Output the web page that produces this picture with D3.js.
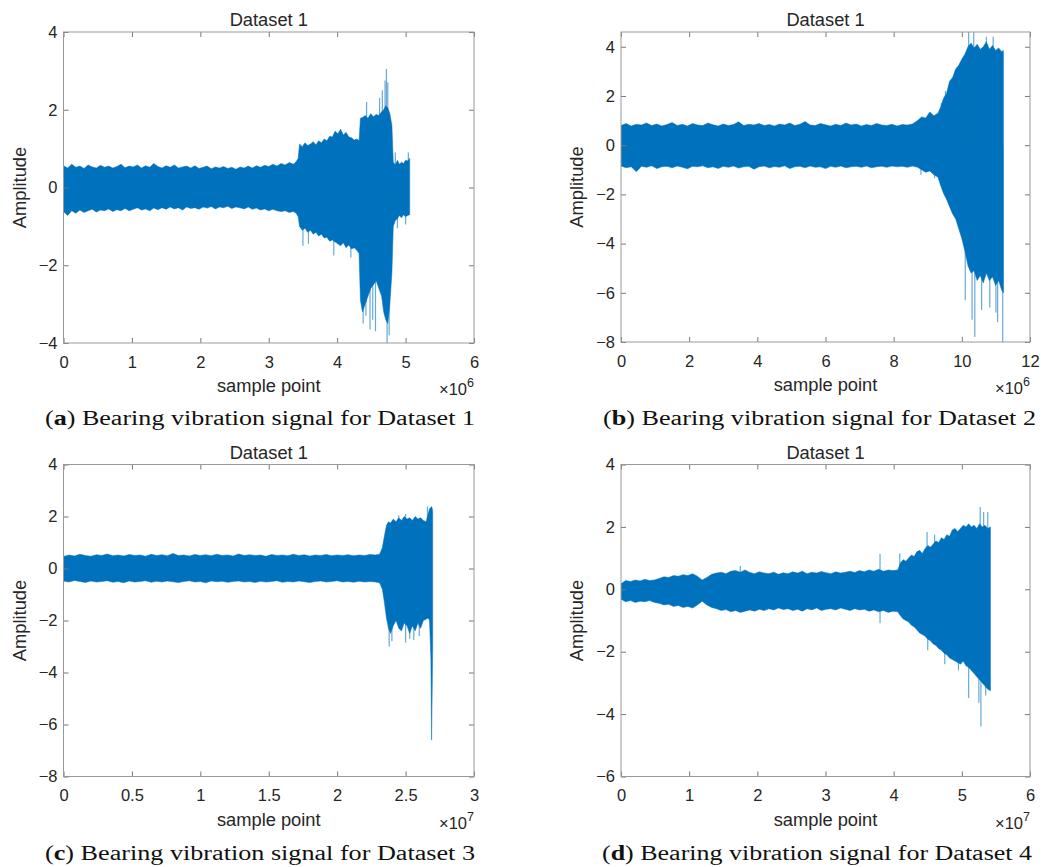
<!DOCTYPE html>
<html>
<head>
<meta charset="utf-8">
<script src="https://cdn.jsdelivr.net/npm/d3@7"></script>
<style>
  body { margin: 0; background: #fff; }
  svg { display: block; }
</style>
</head>
<body>
<div id="chart"></div>
<script>
// ---- data: envelope (max / min) of each signal ----
// x in axis units (x10^6 for a, b; x10^7 for c, d)

// (a) Dataset 1
const xA = [0, 0.06, 0.12, 0.18, 0.24, 0.3, 0.36, 0.42, 0.48, 0.54, 0.6, 0.66, 0.72, 0.78, 0.84, 0.9, 0.96, 1.02, 1.08, 1.14,
  1.2, 1.26, 1.32, 1.38, 1.44, 1.5, 1.56, 1.62, 1.68, 1.74, 1.8, 1.86, 1.92, 1.98, 2.04, 2.1, 2.16, 2.22, 2.28, 2.34,
  2.4, 2.46, 2.52, 2.58, 2.64, 2.7, 2.76, 2.82, 2.88, 2.94, 3.0, 3.06, 3.12, 3.18, 3.24, 3.3, 3.36,
  3.40, 3.43, 3.45, 3.49, 3.53, 3.57, 3.61, 3.65, 3.69, 3.73, 3.77, 3.81, 3.85, 3.89, 3.93, 3.97, 4.01, 4.05, 4.09, 4.13,
  4.17, 4.21, 4.25, 4.29, 4.32, 4.34, 4.37, 4.41, 4.45, 4.49, 4.53, 4.57, 4.61, 4.65, 4.68, 4.71, 4.74, 4.77, 4.8, 4.82,
  4.85, 4.88, 4.91, 4.94, 4.97, 5.0, 5.03, 5.06]
const upA = [0.56, 0.5, 0.6, 0.52, 0.55, 0.49, 0.58, 0.53, 0.5, 0.57, 0.52, 0.55, 0.5, 0.54, 0.6, 0.51, 0.55, 0.53, 0.58, 0.5,
  0.56, 0.52, 0.62, 0.54, 0.5, 0.56, 0.52, 0.58, 0.5, 0.53, 0.55, 0.5, 0.56, 0.49, 0.52, 0.55, 0.48, 0.53, 0.5, 0.54,
  0.49, 0.52, 0.47, 0.53, 0.5, 0.55, 0.5, 0.56, 0.52, 0.57, 0.54, 0.6, 0.55, 0.62, 0.58, 0.64, 0.6,
  0.66, 0.75, 1.12, 1.05, 1.15, 1.08, 1.12, 1.18, 1.1, 1.2, 1.15, 1.25, 1.2, 1.32, 1.3, 1.45, 1.38, 1.5, 1.35, 1.42,
  1.3, 1.28, 1.22, 1.25, 1.2, 1.78, 1.8, 1.85, 1.78, 1.9, 1.82, 1.88, 1.85, 1.95, 2.0, 2.1, 2.05, 1.9, 1.6, 0.65,
  0.58, 0.7, 0.6, 0.65, 0.62, 0.7, 0.68, 0.75]
const loA = [-0.62, -0.72, -0.6, -0.66, -0.58, -0.64, -0.6, -0.56, -0.63, -0.58, -0.6, -0.55, -0.62, -0.57, -0.6, -0.54, -0.6, -0.56, -0.52, -0.58,
  -0.55, -0.6, -0.53, -0.57, -0.52, -0.56, -0.5, -0.55, -0.52, -0.58, -0.5, -0.54, -0.52, -0.56, -0.5, -0.53, -0.49, -0.55, -0.5, -0.52,
  -0.48, -0.54, -0.5, -0.52, -0.55, -0.5, -0.56, -0.53, -0.58, -0.55, -0.6, -0.56, -0.6, -0.62, -0.6, -0.64, -0.62,
  -0.66, -0.75, -1.0, -1.1, -1.05, -1.15, -1.1, -1.2, -1.15, -1.25, -1.2, -1.3, -1.28, -1.38, -1.35, -1.4, -1.45, -1.5, -1.42, -1.55,
  -1.48, -1.58, -1.55, -1.62, -1.7, -2.9, -3.2, -3.0, -2.8, -2.6, -2.5, -2.4, -2.6, -2.8, -3.2, -3.4, -3.5, -3.0, -2.2, -1.0,
  -0.85, -0.8, -0.72, -0.78, -0.7, -0.75, -0.72, -0.7]
const spikeXA = [4.62, 4.66, 4.7, 4.72, 4.74, 4.43, 4.85, 5.04, 3.5, 3.58, 3.95, 4.2, 4.38, 4.42, 4.48, 4.52, 4.56, 4.73, 4.76, 4.88, 5.0]
const spikeYA = [2.3, 2.5, 2.75, 3.05, 2.7, 2.2, 0.9, 0.9, -1.5, -1.45, -1.75, -1.8, -3.5, -3.3, -3.65, -3.4, -3.7, -4.0, -3.8, -1.05, -0.95]

// (b) Dataset 2
const xB = [0, 0.15, 0.3, 0.45, 0.6, 0.75, 0.9, 1.05, 1.2, 1.35, 1.5, 1.65, 1.8, 1.95, 2.1, 2.25, 2.4, 2.55, 2.7, 2.85,
  3.0, 3.15, 3.3, 3.45, 3.6, 3.75, 3.9, 4.05, 4.2, 4.35, 4.5, 4.65, 4.8, 4.95, 5.1, 5.25, 5.4, 5.55, 5.7, 5.85,
  6.0, 6.15, 6.3, 6.45, 6.6, 6.75, 6.9, 7.05, 7.2, 7.35, 7.5, 7.65, 7.8, 7.95, 8.1, 8.25, 8.4, 8.55,
  8.7, 8.82, 8.94, 9.06, 9.18, 9.3, 9.38, 9.46, 9.55, 9.64, 9.73, 9.82, 9.91, 10.0, 10.09, 10.18, 10.27, 10.36, 10.45, 10.54,
  10.63, 10.72, 10.81, 10.9, 10.99, 11.08, 11.17, 11.22]
const upB = [0.8, 0.88, 0.78, 0.85, 0.82, 0.9, 0.8, 0.86, 0.78, 0.84, 0.92, 0.8, 0.85, 0.78, 0.88, 0.82, 0.8, 0.9, 0.83, 0.78,
  0.86, 0.8, 0.84, 0.95, 0.8, 0.85, 0.82, 0.88, 0.8, 0.84, 0.78, 0.86, 0.82, 0.9, 0.8, 0.85, 0.96, 0.82, 0.8, 0.88,
  0.83, 0.78, 0.85, 0.8, 0.9, 0.82, 0.86, 0.78, 0.84, 0.8, 0.88, 0.82, 0.8, 0.85, 0.78, 0.84, 0.82, 0.86,
  1.0, 1.15, 1.1, 1.35, 1.2, 1.3, 1.55, 1.9, 2.1, 2.6, 2.75, 3.1, 3.25, 3.5, 3.7, 4.0, 4.15, 3.95, 4.1, 3.9,
  4.0, 4.2, 3.9, 4.05, 3.85, 3.95, 3.8, 3.85]
const loB = [-0.85, -0.92, -0.88, -1.08, -0.86, -0.9, -0.84, -0.95, -0.88, -0.86, -0.92, -0.85, -0.9, -0.96, -0.86, -0.88, -0.84, -0.92, -0.88, -0.95,
  -0.86, -0.9, -0.85, -0.93, -0.88, -0.86, -0.98, -0.88, -0.85, -0.92, -0.87, -0.9, -0.84, -0.95, -0.88, -0.86, -0.92, -0.85, -0.9, -0.88,
  -0.95, -0.86, -0.9, -0.85, -0.92, -0.88, -0.86, -0.9, -0.85, -0.92, -0.88, -0.86, -0.9, -0.85, -0.88, -0.86, -0.9, -0.85,
  -0.9, -1.0, -1.1, -1.05, -1.2, -1.3, -1.65, -1.95, -2.2, -2.5, -2.8, -3.0, -3.4, -3.8, -4.3, -4.9, -5.2, -5.1, -5.5, -5.3,
  -5.6, -5.2, -5.5, -5.35, -5.7, -5.5, -5.9, -6.0]
const spikeXB = [10.2, 10.35, 10.72, 10.92, 9.4, 9.52, 10.1, 10.3, 10.38, 10.58, 10.82, 11.0, 11.05, 11.2, 8.8, 9.2]
const spikeYB = [4.6, 4.6, 4.41, 4.41, 1.7, 2.2, -6.3, -7.1, -7.8, -6.7, -6.6, -6.8, -7.2, -8.0, -1.2, -1.35]

// (c) Dataset 3
const xC = [0, 0.04, 0.08, 0.12, 0.16, 0.2, 0.24, 0.28, 0.32, 0.36, 0.4, 0.44, 0.48, 0.52, 0.56, 0.6, 0.64, 0.68, 0.72, 0.76,
  0.8, 0.84, 0.88, 0.92, 0.96, 1.0, 1.04, 1.08, 1.12, 1.16, 1.2, 1.24, 1.28, 1.32, 1.36, 1.4, 1.44, 1.48, 1.52, 1.56,
  1.6, 1.64, 1.68, 1.72, 1.76, 1.8, 1.84, 1.88, 1.92, 1.96, 2.0, 2.04, 2.08, 2.12, 2.16, 2.2, 2.24, 2.28,
  2.31, 2.33, 2.345, 2.36, 2.375, 2.39, 2.41, 2.43, 2.45, 2.47, 2.49, 2.51, 2.53, 2.55, 2.57, 2.59, 2.61, 2.63, 2.65, 2.665,
  2.675, 2.685, 2.69, 2.695, 2.698]
const upC = [0.46, 0.52, 0.48, 0.55, 0.5, 0.47, 0.53, 0.5, 0.56, 0.49, 0.52, 0.48, 0.54, 0.5, 0.52, 0.47, 0.55, 0.5, 0.53, 0.49,
  0.58, 0.5, 0.52, 0.48, 0.54, 0.5, 0.53, 0.49, 0.55, 0.5, 0.52, 0.48, 0.56, 0.5, 0.53, 0.5, 0.52, 0.47, 0.54, 0.5,
  0.52, 0.49, 0.55, 0.5, 0.53, 0.48, 0.52, 0.5, 0.54, 0.49, 0.52, 0.5, 0.53, 0.49, 0.52, 0.5, 0.54, 0.52,
  0.55, 0.8, 1.25, 1.65, 1.8, 1.75, 1.9, 1.8, 1.95, 1.85, 2.0, 1.9, 1.95, 1.85, 2.0, 1.9, 1.95, 1.85, 1.8, 2.1,
  2.3, 2.35, 2.38, 2.3, 2.2]
const loC = [-0.48, -0.52, -0.46, -0.5, -0.54, -0.48, -0.52, -0.5, -0.47, -0.53, -0.5, -0.55, -0.48, -0.52, -0.5, -0.47, -0.53, -0.49, -0.52, -0.48,
  -0.51, -0.54, -0.5, -0.47, -0.52, -0.5, -0.55, -0.48, -0.51, -0.49, -0.53, -0.5, -0.48, -0.52, -0.5, -0.54, -0.49, -0.52, -0.5, -0.47,
  -0.53, -0.5, -0.52, -0.48, -0.51, -0.54, -0.5, -0.48, -0.52, -0.5, -0.47, -0.52, -0.5, -0.53, -0.49, -0.52, -0.5, -0.52,
  -0.55, -0.8, -1.3, -1.9, -2.3, -2.5, -2.2, -2.0, -2.3, -2.4, -2.1, -2.2, -2.5, -2.2, -2.4, -2.1, -2.3, -2.0, -1.95, -1.9,
  -2.0, -3.5, -6.6, -4.5, -3.0]
const spikeXC = [2.38, 2.4, 2.5, 2.53, 2.56, 2.6, 2.66, 2.45, 2.5]
const spikeYC = [-3.0, -2.8, -2.85, -2.7, -2.75, -2.6, 2.38, 2.05, 2.1]

// (d) Dataset 4
const xD = [0, 0.07, 0.14, 0.21, 0.28, 0.35, 0.42, 0.49, 0.56, 0.63, 0.7, 0.77, 0.84, 0.91, 0.98, 1.05, 1.12, 1.19, 1.26, 1.33,
  1.4, 1.47, 1.54, 1.61, 1.68, 1.75, 1.82, 1.89, 1.96, 2.03, 2.1, 2.17, 2.24, 2.31, 2.38, 2.45, 2.52, 2.59, 2.66, 2.73,
  2.8, 2.87, 2.94, 3.01, 3.08, 3.15, 3.22, 3.29, 3.36, 3.43, 3.5, 3.57, 3.64, 3.71, 3.78, 3.85, 3.92, 3.99, 4.06,
  4.1, 4.14, 4.18, 4.22, 4.26, 4.3, 4.34, 4.38, 4.42, 4.46, 4.5, 4.54, 4.58, 4.62, 4.66, 4.7, 4.74, 4.78, 4.82, 4.86,
  4.9, 4.94, 4.98, 5.02, 5.06, 5.1, 5.14, 5.18, 5.22, 5.26, 5.3, 5.34, 5.38, 5.42]
const upD = [0.18, 0.28, 0.25, 0.3, 0.27, 0.32, 0.28, 0.3, 0.35, 0.4, 0.38, 0.44, 0.42, 0.47, 0.44, 0.5, 0.42, 0.3, 0.38, 0.48,
  0.52, 0.55, 0.5, 0.58, 0.6, 0.55, 0.62, 0.54, 0.5, 0.56, 0.52, 0.5, 0.55, 0.48, 0.53, 0.5, 0.56, 0.52, 0.58, 0.5,
  0.55, 0.52, 0.57, 0.53, 0.5, 0.56, 0.52, 0.55, 0.58, 0.54, 0.6, 0.56, 0.62, 0.58, 0.64, 0.58, 0.62, 0.6, 0.62,
  0.85, 0.95, 0.9, 1.0, 1.1, 1.05, 1.2, 1.25, 1.15, 1.3, 1.4, 1.35, 1.45, 1.55, 1.5, 1.65, 1.6, 1.75, 1.7, 1.9,
  1.95, 1.85, 1.95, 2.05, 2.0, 2.1, 2.0, 2.05, 1.95, 2.1, 2.0, 2.05, 1.95, 2.0]
const loD = [-0.32, -0.4, -0.36, -0.42, -0.38, -0.4, -0.36, -0.42, -0.45, -0.5, -0.48, -0.55, -0.52, -0.58, -0.55, -0.6, -0.5, -0.38, -0.5, -0.58,
  -0.62, -0.68, -0.65, -0.72, -0.68, -0.74, -0.7, -0.66, -0.7, -0.64, -0.68, -0.62, -0.66, -0.6, -0.65, -0.62, -0.68, -0.64, -0.7, -0.62,
  -0.66, -0.6, -0.68, -0.64, -0.62, -0.66, -0.6, -0.64, -0.68, -0.62, -0.66, -0.64, -0.7, -0.66, -0.72, -0.68, -0.74, -0.7, -0.72,
  -0.85, -0.95, -1.0, -1.05, -1.15, -1.2, -1.3, -1.4, -1.45, -1.5, -1.6, -1.65, -1.75, -1.8, -1.9, -1.95, -2.05, -2.1, -2.2, -2.25,
  -2.3, -2.35, -2.4, -2.3, -2.45, -2.5, -2.6, -2.7, -2.8, -2.9, -3.0, -3.1, -3.2, -3.25]
const spikeXD = [1.75, 3.8, 4.09, 4.49, 4.6, 5.27, 5.32, 5.38, 3.8, 4.5, 4.75, 4.95, 5.1, 5.25, 5.28, 5.35]
const spikeYD = [0.75, 1.13, 1.15, 1.84, 1.75, 2.64, 2.48, 2.48, -1.09, -1.95, -2.4, -2.6, -3.48, -3.64, -4.4, -3.4]

// axis ticks
const xTicksA = [0, 1, 2, 3, 4, 5, 6]
const xTicksB = [0, 2, 4, 6, 8, 10, 12]
const xTicksC = [0, 0.5, 1, 1.5, 2, 2.5, 3]
const xTicksD = [0, 1, 2, 3, 4, 5, 6]
const yTicksA = [-4, -2, 0, 2, 4]
const yTicksB = [-8, -6, -4, -2, 0, 2, 4]
const yTicksC = [-8, -6, -4, -2, 0, 2, 4]
const yTicksD = [-6, -4, -2, 0, 2, 4]

const captions = ['a', 'b', 'c', 'd']
const datasetNames = ['Dataset 1', 'Dataset 2', 'Dataset 3', 'Dataset 4']

// ---- drawing ----
const W = 1046
const H = 867
const BLUE = '#0072BD'
const SANS = '"Liberation Sans", Arial, Helvetica, sans-serif'

const svg = d3.select('#chart').append('svg')
  .attr('width', W)
  .attr('height', H)
  .attr('viewBox', [0, 0, W, H])

const panels = [
  { id: 'a', xs: xA, up: upA, lo: loA, sx: spikeXA, sy: spikeYA, xDomain: [0, 6], yDomain: [-4, 4],
    xTicks: xTicksA, yTicks: yTicksA, exp: '6', left: 63.5, right: 474, top: 32, bottom: 343,
    capX: 45, capW: 430, capY: 425 },
  { id: 'b', xs: xB, up: upB, lo: loB, sx: spikeXB, sy: spikeYB, xDomain: [0, 12], yDomain: [-8, 4.6],
    xTicks: xTicksB, yTicks: yTicksB, exp: '6', left: 621, right: 1030, top: 32, bottom: 342,
    capX: 603, capW: 433, capY: 425 },
  { id: 'c', xs: xC, up: upC, lo: loC, sx: spikeXC, sy: spikeYC, xDomain: [0, 3], yDomain: [-8, 4],
    xTicks: xTicksC, yTicks: yTicksC, exp: '7', left: 63.5, right: 474, top: 464.5, bottom: 776.5,
    capX: 45, capW: 430, capY: 860 },
  { id: 'd', xs: xD, up: upD, lo: loD, sx: spikeXD, sy: spikeYD, xDomain: [0, 6], yDomain: [-6, 4],
    xTicks: xTicksD, yTicks: yTicksD, exp: '7', left: 621, right: 1030, top: 464.5, bottom: 776.5,
    capX: 602, capW: 430, capY: 860 }
]

const defs = svg.append('defs')
const fmt = d => d3.format('~g')(d).replace('-', '\u2212')

panels.forEach((p, idx) => {
  const x = d3.scaleLinear().domain(p.xDomain).range([p.left, p.right])
  const y = d3.scaleLinear().domain(p.yDomain).range([p.bottom, p.top])
  const g = svg.append('g').attr('class', `panel-${p.id}`)

  defs.append('clipPath').attr('id', `clip-${p.id}`)
    .append('rect')
    .attr('x', p.left).attr('y', p.top)
    .attr('width', p.right - p.left).attr('height', p.bottom - p.top)

  const plot = g.append('g').attr('clip-path', `url(#clip-${p.id})`)

  // signal envelope
  const env = p.xs.map((v, i) => ({ x: v, up: p.up[i], lo: p.lo[i] }))
  const area = d3.area()
    .x(d => x(d.x))
    .y0(d => y(d.lo))
    .y1(d => y(d.up))
  plot.append('path')
    .datum(env)
    .attr('d', area)
    .attr('fill', BLUE)
    .attr('stroke', BLUE)
    .attr('stroke-width', 1)
    .attr('stroke-opacity', 0.5)

  // isolated peaks
  plot.selectAll('line.spike')
    .data(p.sx.map((v, i) => ({ x: v, y: p.sy[i] })))
    .join('line')
    .attr('class', 'spike')
    .attr('x1', d => x(d.x)).attr('x2', d => x(d.x))
    .attr('y1', y(0)).attr('y2', d => y(d.y))
    .attr('stroke', BLUE)
    .attr('stroke-width', 1.2)
    .attr('stroke-opacity', 0.6)

  // axes (ticks point inward, box on)
  const axisStyle = sel => {
    sel.select('.domain').remove()
    sel.selectAll('line').attr('stroke', '#777')
    sel.selectAll('text')
      .attr('fill', '#262626')
      .attr('font-family', SANS)
      .attr('font-size', '16.5px')
  }
  g.append('g')
    .attr('transform', `translate(0,${p.bottom})`)
    .call(d3.axisBottom(x).tickValues(p.xTicks).tickFormat(fmt).tickSizeInner(-5).tickSizeOuter(0).tickPadding(13))
    .call(axisStyle)
  g.append('g')
    .attr('transform', `translate(0,${p.top})`)
    .call(d3.axisTop(x).tickValues(p.xTicks).tickFormat('').tickSizeInner(-5).tickSizeOuter(0))
    .call(axisStyle)
  g.append('g')
    .attr('transform', `translate(${p.left},0)`)
    .call(d3.axisLeft(y).tickValues(p.yTicks).tickFormat(fmt).tickSizeInner(-5).tickSizeOuter(0).tickPadding(6))
    .call(axisStyle)
  g.append('g')
    .attr('transform', `translate(${p.right},0)`)
    .call(d3.axisRight(y).tickValues(p.yTicks).tickFormat('').tickSizeInner(-5).tickSizeOuter(0))
    .call(axisStyle)

  g.append('rect')
    .attr('x', p.left).attr('y', p.top)
    .attr('width', p.right - p.left).attr('height', p.bottom - p.top)
    .attr('fill', 'none')
    .attr('stroke', '#999')
    .attr('stroke-width', 1)

  const cx = (p.left + p.right) / 2
  const cy = (p.top + p.bottom) / 2

  // title (all four panels are titled "Dataset 1" in the source figure)
  g.append('text')
    .attr('x', cx).attr('y', p.top - 6)
    .attr('text-anchor', 'middle')
    .attr('font-family', SANS).attr('font-size', '18.3px')
    .attr('fill', '#262626')
    .text(datasetNames[0])

  g.append('text')
    .attr('x', cx).attr('y', p.bottom + 49)
    .attr('text-anchor', 'middle')
    .attr('font-family', SANS).attr('font-size', '18.3px')
    .attr('fill', '#262626')
    .text('sample point')

  g.append('text')
    .attr('transform', `translate(${p.left - 44},${cy}) rotate(-90)`)
    .attr('text-anchor', 'middle')
    .attr('dy', '0.35em')
    .attr('font-family', SANS).attr('font-size', '18.3px')
    .attr('fill', '#262626')
    .text('Amplitude')

  // exponent multiplier
  const ex = g.append('text')
    .attr('x', p.right).attr('y', p.bottom + 52)
    .attr('text-anchor', 'end')
    .attr('font-family', SANS).attr('font-size', '16.5px')
    .attr('fill', '#262626')
  ex.append('tspan').text('\u00d710')
  ex.append('tspan').attr('dy', -8).attr('font-size', '12.5px').text(p.exp)

  // caption below the panel
  const cap = svg.append('text')
    .attr('x', p.capX).attr('y', p.capY)
    .attr('font-family', '"Liberation Serif", "Times New Roman", serif')
    .attr('font-size', '20.5px')
    .attr('fill', '#111')
    .attr('textLength', p.capW)
    .attr('lengthAdjust', 'spacingAndGlyphs')
  cap.append('tspan').text('(')
  cap.append('tspan').attr('font-weight', 'bold').text(captions[idx])
  cap.append('tspan').text(`) Bearing vibration signal for ${datasetNames[idx]}`)
})
</script>
</body>
</html>
